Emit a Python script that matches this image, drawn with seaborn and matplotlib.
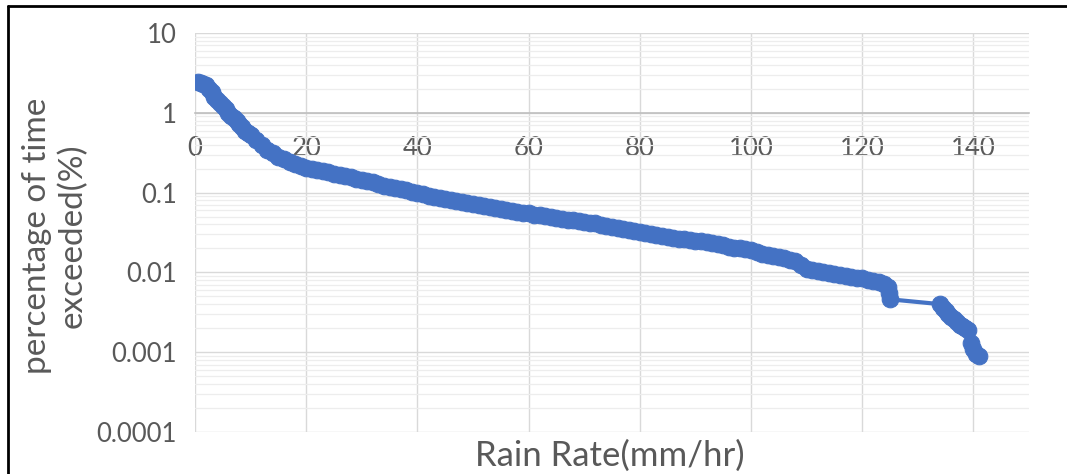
import matplotlib
matplotlib.use("Agg")
import matplotlib.pyplot as plt
import seaborn as sns
import pandas as pd
from matplotlib.ticker import FixedLocator, LogLocator, NullFormatter, FixedFormatter
from matplotlib.lines import Line2D

# ---- data ----
rain_rate = [0.5, 1.0, 1.5, 2.0, 2.5, 3.0, 3.5, 4.0, 4.5, 5.0, 5.5, 6.0, 6.5, 7.0, 7.5,
             8.0, 8.5, 9.0, 9.5, 10,
             11, 12, 13, 14, 15, 16, 17, 18, 19, 20, 21, 22, 23, 24, 25, 26, 27, 28,
             29, 30, 31, 32, 33, 34, 35, 36, 37, 38, 39, 40, 41, 42, 43, 44, 45, 46,
             47, 48, 49, 50, 51, 52, 53, 54, 55, 56, 57, 58, 59, 60, 61, 62, 63, 64,
             65, 66, 67, 68, 69, 70, 71, 72, 73, 74, 75, 76, 77, 78, 79, 80, 81, 82,
             83, 84, 85, 86, 87, 88, 89, 90, 91, 92, 93, 94, 95, 96, 97, 98, 99, 100,
             101, 102, 103, 104, 105, 106, 107, 108, 109, 110, 111, 112, 113, 114,
             115, 116, 117, 118, 119, 120, 121, 122, 123, 124, 124.6, 124.8, 125,
             134, 134.5, 135, 135.5, 136, 136.5, 137, 137.5, 138, 138.5, 139, 139.5,
             140, 140.5, 141]
pct_exceeded = [2.4, 2.35, 2.3, 2.2, 2.0, 1.8, 1.6, 1.45, 1.32, 1.2, 1.1, 1.0, 0.92,
                0.85, 0.78, 0.72, 0.66, 0.6, 0.56, 0.52,
                0.45, 0.39, 0.34, 0.31, 0.28, 0.26, 0.24, 0.225, 0.213, 0.205, 0.197,
                0.19, 0.185, 0.18, 0.172, 0.165, 0.16, 0.155, 0.15, 0.145, 0.14, 0.135,
                0.128, 0.122, 0.118, 0.115, 0.111, 0.107, 0.103, 0.1, 0.095, 0.09,
                0.088, 0.085, 0.082, 0.08, 0.078, 0.076, 0.074, 0.072, 0.07, 0.068,
                0.066, 0.064, 0.062, 0.06, 0.058, 0.057, 0.056, 0.055, 0.053, 0.052,
                0.051, 0.05, 0.048, 0.047, 0.046, 0.045, 0.044, 0.043, 0.042, 0.041,
                0.039, 0.038, 0.037, 0.036, 0.035, 0.034, 0.033, 0.032, 0.031, 0.030,
                0.0295, 0.029, 0.028, 0.027, 0.0265, 0.026, 0.0255, 0.025, 0.0245,
                0.024, 0.0235, 0.023, 0.022, 0.021, 0.0205, 0.020, 0.0195, 0.019,
                0.018, 0.017, 0.0165, 0.016, 0.0155, 0.015, 0.0145, 0.014, 0.0125,
                0.011, 0.0108, 0.0105, 0.0101, 0.0098, 0.0095, 0.0092, 0.009, 0.0088,
                0.0086, 0.0085, 0.0081, 0.0078, 0.0075, 0.0072, 0.0065, 0.0055, 0.0046,
                0.0040, 0.0036, 0.0033, 0.0030, 0.0028, 0.0026, 0.0024, 0.0022, 0.0021,
                0.0020, 0.0019, 0.0013, 0.0011, 0.00095, 0.0009]
x_ticks = [0, 20, 40, 60, 80, 100, 120, 140]
y_ticks = [0.0001, 0.001, 0.01, 0.1, 1, 10]
y_tick_labels = ["0.0001", "0.001", "0.01", "0.1", "1", "10"]
x_label = "Rain Rate(mm/hr)"
y_label = "percentage of time\nexceeded(%)"

df = pd.DataFrame({"rain": rain_rate, "pct": pct_exceeded})

sns.set_theme(style="white")
plt.rcParams["font.family"] = ["Lato", "DejaVu Sans"]

W, H = 1067, 474
fig = plt.figure(figsize=(W / 100, H / 100), dpi=100)
ax = fig.add_axes([195 / W, 1 - 432 / H, (1029 - 195) / W, (432 - 33) / H])

blue = "#4472C4"
grid_c = "#D9D9D9"
minor_c = "#EDEDED"
text_c = "#595959"

sns.lineplot(data=df, x="rain", y="pct", ax=ax, color=blue, linewidth=3,
             marker="o", markersize=12, markeredgecolor=blue, markerfacecolor=blue,
             sort=False, zorder=5)

ax.set_yscale("log")
ax.set_xlim(0, 150)
ax.set_ylim(0.0001, 10)

ax.yaxis.set_major_locator(FixedLocator(y_ticks))
ax.yaxis.set_major_formatter(FixedFormatter(y_tick_labels))
ax.yaxis.set_minor_locator(LogLocator(base=10, subs=range(2, 10)))
ax.yaxis.set_minor_formatter(NullFormatter())
ax.xaxis.set_major_locator(FixedLocator(x_ticks))
ax.xaxis.set_minor_locator(FixedLocator([v for v in range(0, 151, 4)]))

ax.grid(which="major", axis="both", color=grid_c, linewidth=1.0)
ax.grid(which="minor", axis="y", color=minor_c, linewidth=0.9)
ax.set_axisbelow(True)

for s in ["top", "right", "left"]:
    ax.spines[s].set_visible(False)
ax.spines["bottom"].set_position(("data", 1))
ax.spines["bottom"].set_color("#BFBFBF")
ax.spines["bottom"].set_linewidth(1.2)
ax.spines["bottom"].set_zorder(2)

ax.tick_params(axis="x", which="major", direction="in", length=0, pad=17,
               labelsize=18.5, labelcolor=text_c)
ax.tick_params(axis="x", which="minor", direction="in", length=4, width=1,
               color="#BFBFBF")
ax.tick_params(axis="y", which="both", length=0, pad=13, labelsize=18.5,
               labelcolor=text_c)

ax.set_xlabel("")
ax.set_ylabel("")
fig.text(610 / W, 1 - 456 / H, x_label, ha="center", va="center",
         fontsize=25, color=text_c)
fig.text(55 / W, 1 - 236 / H, y_label, ha="center", va="center",
         rotation=90, fontsize=24, color=text_c, linespacing=1.2)

# frame lines (left and top) of the exported image
fig.add_artist(Line2D([8 / W, 8 / W], [0, 1 - 6 / H], transform=fig.transFigure,
                      color="black", linewidth=2))
fig.add_artist(Line2D([8 / W, 1], [1 - 6 / H, 1 - 6 / H], transform=fig.transFigure,
                      color="black", linewidth=2))

fig.savefig("out.png", dpi=100)
